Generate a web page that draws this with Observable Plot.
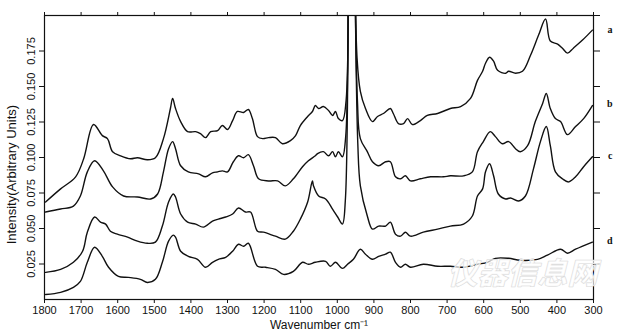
<!DOCTYPE html>
<html><head><meta charset="utf-8">
<script src="https://cdn.jsdelivr.net/npm/d3@7"></script>
<script src="https://cdn.jsdelivr.net/npm/@observablehq/plot@0.6"></script>
<style>body{margin:0;background:#fff} svg{display:block}</style>
</head><body><div id="chart"></div>
<script>
// wavenumber (cm-1), intensity (arbitrary units)
const seriesA = [[1797,0.0687],[1756,0.0779],[1715,0.0864],[1693,0.0991],[1666,0.1232],[1642,0.1154],[1628,0.1133],[1614,0.1041],[1592,0.1012],[1565,0.0991],[1546,0.0998],[1519,0.0984],[1497,0.0998],[1475,0.1133],[1456,0.1345],[1450,0.1416],[1442,0.1345],[1428,0.1253],[1409,0.1182],[1387,0.1182],[1374,0.1168],[1360,0.1140],[1346,0.1182],[1327,0.1189],[1314,0.1225],[1300,0.1197],[1286,0.1260],[1273,0.1324],[1256,0.1317],[1243,0.1338],[1232,0.1274],[1218,0.1147],[1204,0.1133],[1188,0.1140],[1169,0.1140],[1150,0.1097],[1128,0.1119],[1114,0.1154],[1101,0.1225],[1081,0.1289],[1068,0.1324],[1060,0.1366],[1051,0.1345],[1038,0.1359],[1024,0.1331],[1013,0.1296],[1005,0.1324],[997,0.1274],[986,0.1260],[976,0.140],[969,0.26],[961,0.55],[953,0.26],[946,0.17],[937,0.1466],[923,0.1345],[904,0.1253],[890,0.1289],[874,0.1310],[855,0.1345],[847,0.1310],[833,0.1239],[819,0.1239],[808,0.1274],[795,0.1232],[773,0.1260],[754,0.1296],[726,0.1310],[691,0.1345],[663,0.1359],[636,0.1416],[617,0.1543],[603,0.1607],[595,0.1664],[584,0.1706],[573,0.1678],[562,0.1614],[540,0.1593],[532,0.1607],[513,0.1593],[494,0.1607],[472,0.1720],[450,0.1862],[431,0.1975],[418,0.1820],[398,0.1798],[385,0.1770],[371,0.1735],[355,0.1770],[330,0.1827],[303,0.1897]];
const seriesB = [[1797,0.0616],[1756,0.0637],[1721,0.0658],[1702,0.0729],[1683,0.0899],[1663,0.0977],[1639,0.0906],[1614,0.0793],[1584,0.0729],[1546,0.0722],[1510,0.0708],[1491,0.0743],[1475,0.0899],[1461,0.1062],[1450,0.1112],[1442,0.1062],[1428,0.0942],[1407,0.0899],[1379,0.0885],[1360,0.0864],[1341,0.0892],[1327,0.0899],[1314,0.0906],[1300,0.0899],[1284,0.0970],[1270,0.1012],[1256,0.0998],[1243,0.1020],[1229,0.0942],[1215,0.0850],[1188,0.0835],[1163,0.0835],[1142,0.0800],[1120,0.0850],[1095,0.0935],[1079,0.0977],[1060,0.1012],[1054,0.1027],[1038,0.1041],[1024,0.1012],[1013,0.1041],[1005,0.1005],[997,0.1041],[986,0.1005],[977,0.115],[969,0.26],[961,0.55],[953,0.26],[945,0.14],[937,0.1133],[918,0.1041],[904,0.0970],[887,0.0942],[868,0.0970],[855,0.0970],[841,0.0864],[827,0.0850],[814,0.0871],[800,0.0835],[773,0.0850],[745,0.0864],[710,0.0864],[691,0.0871],[655,0.0871],[631,0.0899],[617,0.1041],[601,0.1112],[582,0.1182],[568,0.1147],[549,0.1097],[532,0.1112],[513,0.1062],[500,0.1041],[480,0.1083],[459,0.1253],[439,0.1381],[429,0.1451],[418,0.1345],[404,0.1274],[390,0.1253],[371,0.1161],[349,0.1218],[327,0.1274],[303,0.1366]];
const seriesC = [[1797,0.0191],[1756,0.0212],[1721,0.0262],[1696,0.0340],[1683,0.0474],[1663,0.0581],[1647,0.0545],[1633,0.0531],[1620,0.0481],[1601,0.0460],[1573,0.0439],[1546,0.0411],[1519,0.0396],[1497,0.0404],[1478,0.0517],[1461,0.0687],[1448,0.0743],[1442,0.0722],[1428,0.0602],[1409,0.0545],[1387,0.0531],[1366,0.0510],[1341,0.0552],[1325,0.0566],[1305,0.0581],[1286,0.0602],[1270,0.0644],[1251,0.0616],[1237,0.0616],[1218,0.0481],[1202,0.0474],[1169,0.0446],[1142,0.0425],[1120,0.0481],[1101,0.0566],[1081,0.0687],[1068,0.0835],[1065,0.0800],[1051,0.0729],[1032,0.0708],[1013,0.0637],[999,0.0581],[986,0.0531],[978,0.070],[969,0.26],[961,0.55],[953,0.26],[944,0.11],[937,0.0800],[918,0.0588],[904,0.0496],[887,0.0517],[868,0.0517],[855,0.0545],[841,0.0460],[827,0.0446],[814,0.0474],[800,0.0446],[765,0.0474],[726,0.0496],[691,0.0517],[655,0.0531],[631,0.0588],[617,0.0729],[603,0.0779],[595,0.0899],[584,0.0956],[573,0.0871],[560,0.0743],[540,0.0708],[527,0.0715],[505,0.0694],[486,0.0729],[464,0.0920],[445,0.1112],[429,0.1218],[418,0.1083],[404,0.0899],[385,0.0850],[368,0.0828],[349,0.0864],[327,0.0935],[303,0.1005]];
const seriesD = [[1797,0.0035],[1756,0.0050],[1721,0.0085],[1702,0.0127],[1683,0.0262],[1663,0.0368],[1642,0.0304],[1625,0.0227],[1598,0.0163],[1571,0.0156],[1538,0.0142],[1519,0.0120],[1497,0.0142],[1478,0.0262],[1461,0.0411],[1448,0.0453],[1442,0.0439],[1428,0.0340],[1407,0.0304],[1382,0.0283],[1360,0.0227],[1341,0.0262],[1325,0.0283],[1305,0.0297],[1286,0.0340],[1270,0.0389],[1256,0.0375],[1243,0.0396],[1218,0.0234],[1196,0.0227],[1169,0.0212],[1147,0.0177],[1120,0.0198],[1095,0.0262],[1079,0.0248],[1060,0.0262],[1032,0.0269],[1019,0.0234],[1005,0.0262],[986,0.0219],[972,0.0248],[956,0.0283],[937,0.0354],[923,0.0319],[904,0.0283],[887,0.0304],[868,0.0319],[855,0.0333],[841,0.0262],[827,0.0227],[814,0.0248],[800,0.0227],[765,0.0248],[726,0.0234],[691,0.0234],[655,0.0227],[617,0.0248],[590,0.0262],[568,0.0290],[532,0.0290],[500,0.0276],[453,0.0283],[426,0.0312],[390,0.0354],[371,0.0326],[349,0.0354],[303,0.0404]];

const seriesNames = ["a", "b", "c", "d"];
const seriesList = [seriesA, seriesB, seriesC, seriesD];
const labelLevels = [0.190, 0.138, 0.1014, 0.0415];
const xTicks = [1800,1700,1600,1500,1400,1300,1200,1100,1000,900,800,700,600,500,400,300];
const yTicks = [0.025,0.050,0.075,0.100,0.125,0.150,0.175];
const yTicksRight = [0.025,0.050,0.075,0.100,0.125,0.150,0.175,0.200];
const xLabel = "Wavenumber cm\u207B\u00B9";
const yLabel = "Intensity(Arbitrary Units)";
const yLabelLevel = 0.088;
const watermark = "仪器信息网";

const rows = seriesList.flatMap((s, i) => s.map(([w, v]) => ({series: seriesNames[i], w, v})));
const labels = seriesNames.map((n, i) => ({name: n, v: labelLevels[i]}));

const font = "Liberation Sans, Arial, sans-serif";
const chart = Plot.plot({
  width: 624, height: 336,
  marginLeft: 44, marginRight: 31, marginTop: 15, marginBottom: 37,
  style: {fontFamily: font, fontSize: "11px", color: "#111", background: "#fff"},
  x: {domain: [1800, 300]},
  y: {domain: [0, 0.2]},
  marks: [
    Plot.line(rows, {x: "w", y: "v", z: "series", stroke: "#111", strokeWidth: 1.4, clip: true, curve: "catmull-rom"}),
    Plot.frame({stroke: "#111", strokeWidth: 1.2}),
    Plot.axisX({anchor: "bottom", ticks: xTicks, tickSize: 4, tickPadding: 3, tickFormat: d3.format("d"), label: null, fontSize: 11}),
    Plot.axisX({anchor: "top", ticks: xTicks, tickSize: 4, tickFormat: () => "", label: null}),
    Plot.axisY({anchor: "left", ticks: yTicks, tickSize: 5, tickFormat: () => "", label: null}),
    Plot.axisY({anchor: "right", ticks: yTicksRight, tickSize: 6, tickFormat: () => "", label: null}),
    Plot.text(yTicks, {y: d => d, frameAnchor: "left", textAnchor: "middle", dx: -13, rotate: -90, text: d => d3.format(".3f")(d), fontSize: 11, fill: "#111"}),
    Plot.text([yLabel], {y: () => yLabelLevel, frameAnchor: "left", textAnchor: "middle", dx: -33, rotate: -90, text: d => d, fontSize: 13, fill: "#111"}),
    Plot.text([xLabel], {frameAnchor: "bottom", dy: 29, text: d => d, fontSize: 12, fill: "#111"}),
    Plot.text(labels, {y: "v", frameAnchor: "right", dx: 19, text: "name", fontFamily: "Liberation Serif, serif", fontWeight: "bold", fontSize: 10, fill: "#111"}),
    Plot.text([watermark], {frameAnchor: "bottom-right", dx: 4, dy: -16, text: d => d, textAnchor: "end", fontFamily: "Noto Sans CJK SC", fontWeight: "bold", fontStyle: "italic", fontSize: 30, fill: "#fff", fillOpacity: 0.7, stroke: "#d8d8d8", strokeWidth: 1})
  ]
});
document.getElementById("chart").appendChild(chart);
</script>
</body></html>
